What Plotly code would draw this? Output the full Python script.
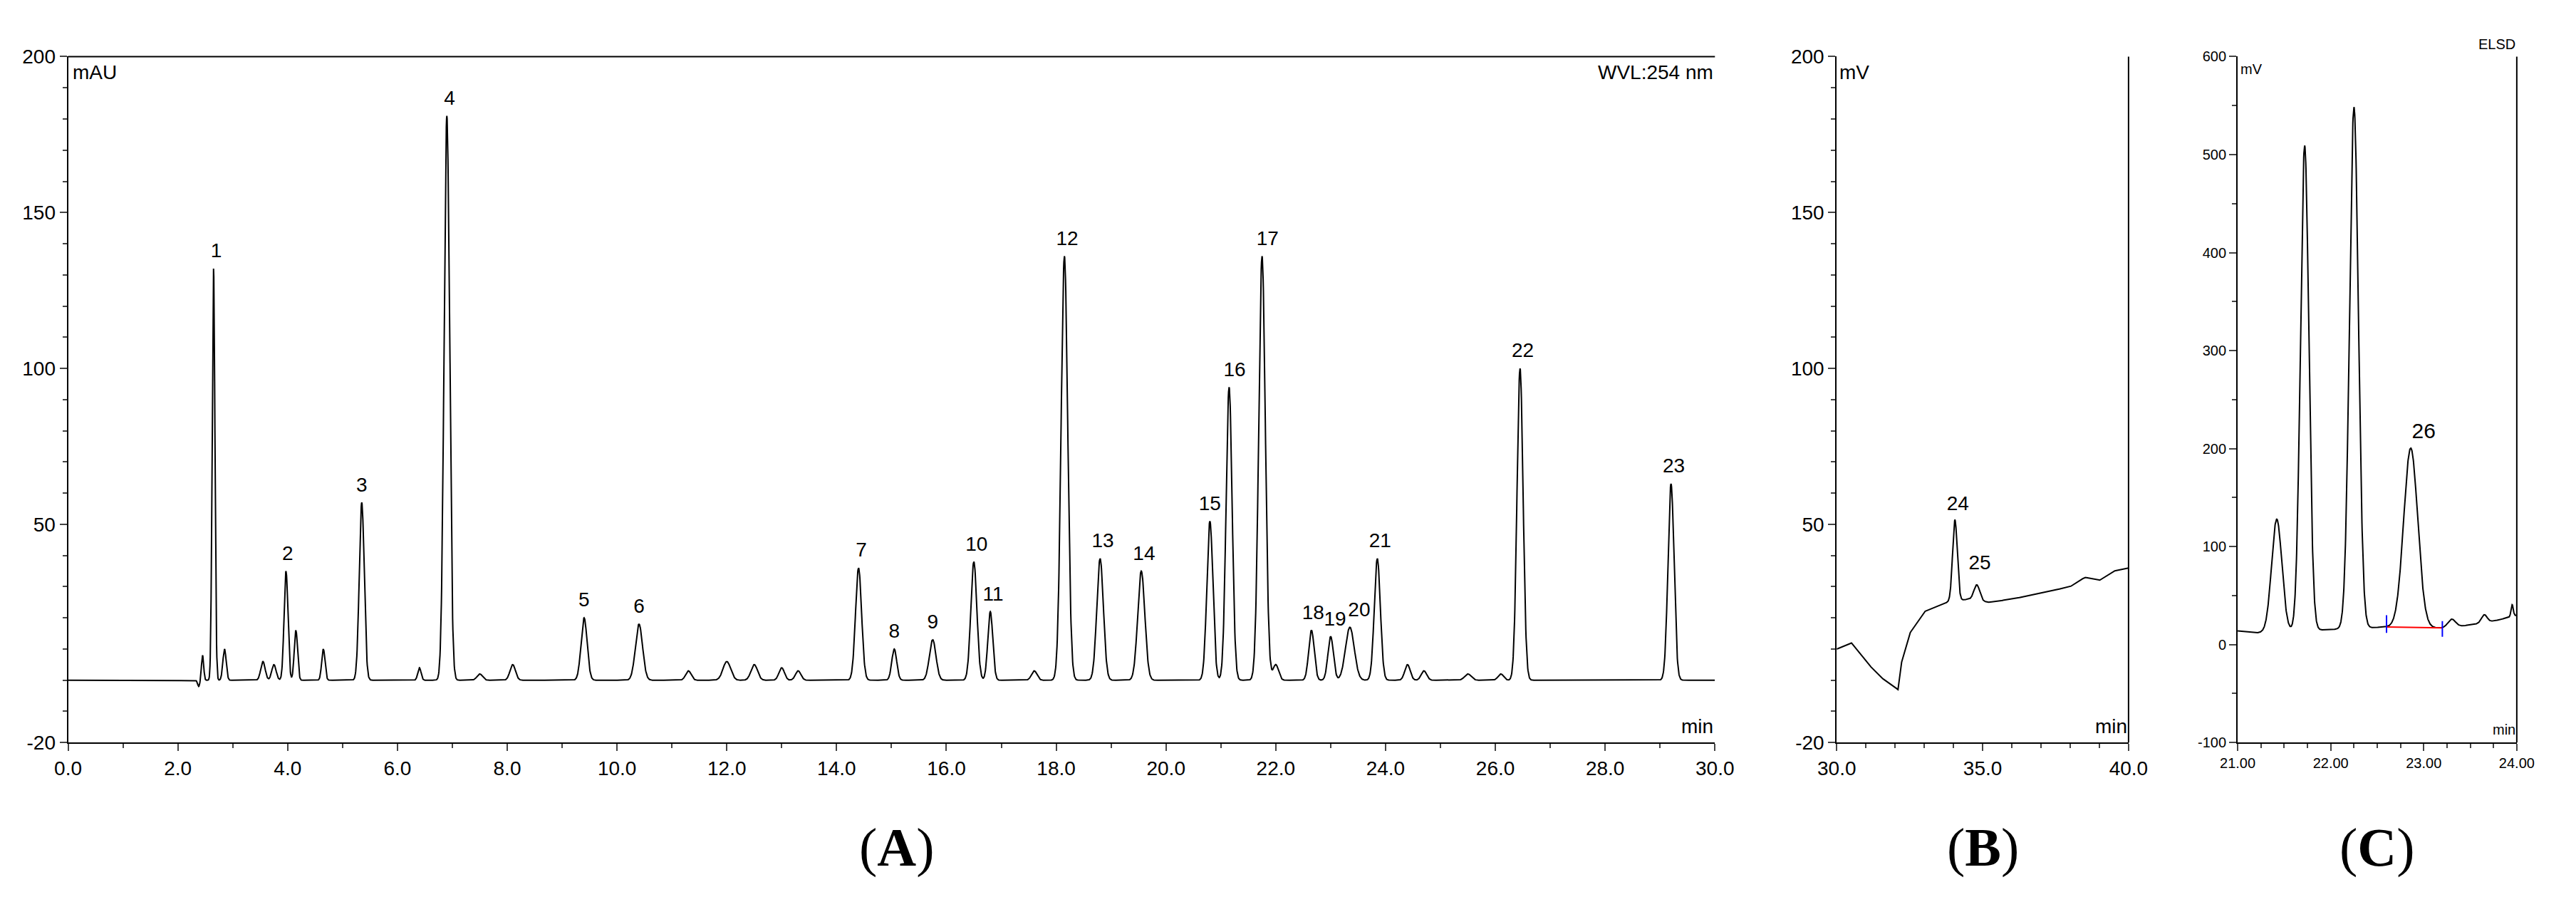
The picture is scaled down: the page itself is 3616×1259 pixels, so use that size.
import numpy as np
import plotly.graph_objects as go

# ---- Panel A peaks (min, mAU, width sigma) ----
a_times  = [2.45,2.65,2.85,3.55,3.75,3.97,4.15,4.65,5.35,6.4,6.9,7.5,8.1,9.4,10.4,11.3,12.0,12.5,13.0,13.3,
            14.4,15.05,15.75,16.5,16.8,17.6,18.15,18.8,19.55,20.8,21.15,21.75,22.0,22.65,23.0,23.35,23.85,24.4,24.7,25.5,26.1,26.45,29.2]
a_heights= [8,132,10,6,5,35,16,10,57,4,181,2,5,20,18,3,6,5,4,3,
            36,10,13,38,22,3,136,39,35,51,94,136,5,16,14,17,39,5,3,2,2,100,63]
a_widths = [0.02,0.025,0.03,0.04,0.04,0.035,0.03,0.03,0.045,0.03,0.05,0.05,0.05,0.055,0.065,0.05,0.07,0.06,0.05,0.05,
            0.055,0.045,0.06,0.055,0.045,0.05,0.06,0.06,0.065,0.055,0.055,0.06,0.05,0.05,0.05,0.08,0.055,0.05,0.05,0.06,0.05,0.055,0.055]
a_label_n = [str(i) for i in range(1,24)]
a_label_t = [2.7,4.0,5.35,6.95,9.4,10.4,14.45,15.05,15.75,16.55,16.85,18.2,18.85,19.6,20.8,21.25,21.85,22.68,23.08,23.52,23.9,26.5,29.25]
a_label_y = [132,35,57,181,20,18,36,10,13,38,22,136,39,35,51,94,136,16,14,17,39,100,63]

# ---- Panel B ----
b_base_t = [30,30.5,31,31.5,32.1,32.2,32.5,33,33.8,34.5,35.2,36,37,38,38.5,39,39.5,40]
b_base_y = [10,12,6,1,-3,5,15,22,25,26,25,26,28,30,33,32,35,36]
b_pk_t = [34.05,34.8]; b_pk_h = [26,5]; b_pk_w = [0.08,0.1]
b_labels = ["24","25"]

# ---- Panel C ----
c_base_t = [21.0,21.2,22.6,23.2,23.5,23.8,24.0]
c_base_y = [14,12,18,17,20,25,30]
c_pk_t = [21.42,21.72,22.25,22.86,23.3,23.65,23.95]
c_pk_h = [115,495,532,183,8,8,12]
c_pk_w = [0.055,0.045,0.048,0.075,0.04,0.03,0.012]

def peaks(t, ts, hs, ws):
    y = np.zeros_like(t)
    for a, h, w in zip(ts, hs, ws):
        y += h*np.exp(-0.5*((t-a)/w)**2)
    return y

ta = np.linspace(0, 30, 6001)
ya = peaks(ta, a_times, a_heights, a_widths)
ya -= 2.0*np.exp(-0.5*((ta-2.38)/0.02)**2)
tb = np.linspace(30, 40, 2001)
yb = np.interp(tb, b_base_t, b_base_y) + peaks(tb, b_pk_t, b_pk_h, b_pk_w)
tc = np.linspace(21, 24, 1501)
yc = np.interp(tc, c_base_t, c_base_y) + peaks(tc, c_pk_t, c_pk_h, c_pk_w)

F = "Liberation Sans"
fig = go.Figure()
ln = dict(color="black", width=2)
fig.add_trace(go.Scatter(x=ta, y=ya, mode="lines", line=ln, xaxis="x", yaxis="y"))
fig.add_trace(go.Scatter(x=tb, y=yb, mode="lines", line=ln, xaxis="x2", yaxis="y2"))
fig.add_trace(go.Scatter(x=tc, y=yc, mode="lines", line=ln, xaxis="x3", yaxis="y3"))
fig.add_trace(go.Scatter(x=[22.6,23.2], y=[18,17], mode="lines", line=dict(color="red", width=2), xaxis="x3", yaxis="y3"))
fig.add_trace(go.Scatter(x=[22.6,22.6,None,23.2,23.2], y=[12,30,None,8,24], mode="lines", line=dict(color="blue", width=2), xaxis="x3", yaxis="y3"))

fig.add_trace(go.Scatter(x=a_label_t, y=[v+2 for v in a_label_y], text=a_label_n, mode="text",
                         textfont=dict(family=F, size=28, color="black"), textposition="top center", xaxis="x", yaxis="y"))
fig.add_trace(go.Scatter(x=[34.15,34.9], y=[53,34], text=b_labels, mode="text",
                         textfont=dict(family=F, size=28, color="black"), textposition="top center", xaxis="x2", yaxis="y2"))
fig.add_trace(go.Scatter(x=[23.0], y=[205], text=["26"], mode="text",
                         textfont=dict(family=F, size=30, color="black"), textposition="top center", xaxis="x3", yaxis="y3"))

def xax(dom, rng, dt, fmt, minor_dt, size=28):
    return dict(domain=dom, range=rng, showgrid=False, zeroline=False, showline=True, linecolor="black", linewidth=2,
                ticks="outside", ticklen=10, tickwidth=2, dtick=dt, tick0=rng[0], tickformat=fmt,
                tickfont=dict(family=F, size=size, color="black"),
                minor=dict(ticks="outside", ticklen=6, tickwidth=2, dtick=minor_dt, tick0=rng[0], showgrid=False))
def yax(anchor, rng, vals, minor_dt, size=28):
    return dict(anchor=anchor, domain=[0.17,0.954], range=rng, showgrid=False, zeroline=False, showline=True, linecolor="black",
                linewidth=2, ticks="outside", ticklen=10, tickwidth=2, tickvals=vals, ticktext=[str(v) for v in vals],
                tickfont=dict(family=F, size=size, color="black"),
                minor=dict(ticks="outside", ticklen=6, tickwidth=2, dtick=minor_dt, tick0=0, showgrid=False))

fig.update_layout(
    width=3616, height=1259, paper_bgcolor="white", plot_bgcolor="white", showlegend=False,
    margin=dict(l=0, r=0, t=0, b=0),
    xaxis=dict(xax([0.017,0.666],[0,30],2,".1f",1), anchor="y"),
    yaxis=yax("x",[-20,200],[-20,50,100,150,200],10),
    xaxis2=dict(xax([0.714,0.829],[30,40],5,".1f",1), anchor="y2"),
    yaxis2=yax("x2",[-20,200],[-20,50,100,150,200],10),
    xaxis3=dict(xax([0.872,0.982],[21,24],1,".2f",0.25,size=20), anchor="y3"),
    yaxis3=yax("x3",[-100,600],[-100,0,100,200,300,400,500,600],50,size=20),
)
shapes = [
    dict(type="line", xref="x domain", yref="y domain", x0=0, x1=1, y0=1, y1=1, line=ln),
    dict(type="line", xref="x2 domain", yref="y2 domain", x0=1, x1=1, y0=0, y1=1, line=ln),
    dict(type="line", xref="x3 domain", yref="y3 domain", x0=1, x1=1, y0=0, y1=1, line=ln),
]
fig.update_layout(shapes=shapes)
ann = [
    dict(xref="x domain", yref="y domain", x=0.002, y=0.995, text="mAU", xanchor="left", yanchor="top"),
    dict(xref="x domain", yref="y domain", x=1, y=0.995, text="WVL:254 nm", xanchor="right", yanchor="top"),
    dict(xref="x domain", yref="y domain", x=1, y=0.005, text="min", xanchor="right", yanchor="bottom"),
    dict(xref="x2 domain", yref="y2 domain", x=0.005, y=0.995, text="mV", xanchor="left", yanchor="top"),
    dict(xref="x2 domain", yref="y2 domain", x=1, y=0.005, text="min", xanchor="right", yanchor="bottom"),
    dict(xref="x3 domain", yref="y3 domain", x=0.005, y=0.995, text="mV", xanchor="left", yanchor="top", font=dict(family=F,size=20,color="black")),
    dict(xref="x3 domain", yref="y3 domain", x=1, y=1.005, text="ELSD", xanchor="right", yanchor="bottom", font=dict(family=F,size=20,color="black")),
    dict(xref="x3 domain", yref="y3 domain", x=1, y=0.005, text="min", xanchor="right", yanchor="bottom", font=dict(family=F,size=20,color="black")),
]
for a in ann:
    a.setdefault("font", dict(family=F, size=28, color="black"))
    a["showarrow"] = False
for lab, xc in [("A",0.3435),("B",0.7715),("C",0.927)]:
    ann.append(dict(xref="paper", yref="paper", x=xc, y=0.05, text="(<b>%s</b>)" % lab, showarrow=False,
                    font=dict(family="Liberation Serif", size=76, color="black"), xanchor="center", yanchor="middle"))
fig.update_layout(annotations=ann)
fig.write_html("out.html")
